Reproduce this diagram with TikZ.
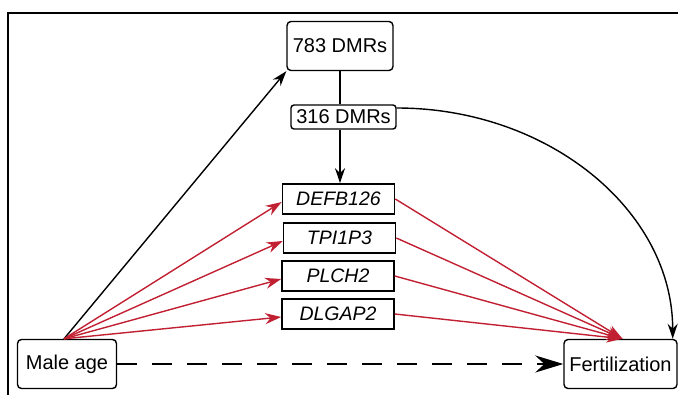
\documentclass[tikz,border=0pt]{standalone}
\usepackage{fontspec}
\setmainfont{Liberation Sans}
\usetikzlibrary{arrows.meta, positioning}
\definecolor{rojo}{RGB}{193,32,50}

\begin{document}
\begin{tikzpicture}[x=1pt, y=-1pt,
    caja/.style={draw, line width=1.4pt, rounded corners=4pt, inner sep=0pt,
        font=\fontsize{20}{24}\selectfont},
    gen/.style={draw, line width=1.6pt, inner sep=0pt, minimum width=112pt,
        minimum height=30pt, font=\fontsize{19.5}{23}\selectfont\itshape},
    flecha/.style={line width=1.4pt, -{Stealth[length=15pt, width=10pt]}},
    flecharoja/.style={rojo, line width=1.4pt, -{Stealth[length=16pt, width=11pt]}}]
    \useasboundingbox (0,0) rectangle (678,394);
    \clip (0,0) rectangle (678,394);

    % Marco
    \draw[line width=2pt] (8,12.5) rectangle (700,420);

    % Nodos
    \node[caja, minimum width=106pt, minimum height=49pt] (dmrA) at (340,46) {783 DMRs};
    \node[caja, rounded corners=3pt, minimum width=105pt, minimum height=24pt] (dmrB) at (343.5,117) {316 DMRs};
    \node[gen] (defb) at (338.5,199) {DEFB126};
    \node[gen] (tpi) at (339.5,238) {TPI1P3};
    \node[gen] (plch) at (338,276) {PLCH2};
    \node[gen] (dlgap) at (338,314) {DLGAP2};
    \node[caja, minimum width=99pt, minimum height=49pt] (male) at (67,364) {Male age};
    \node[caja, minimum width=113pt, minimum height=49pt] (fert) at (620.5,364) {Fertilization};

    % Flechas negras
    \draw[flecha] ([xshift=-3pt]male.north) -- (dmrA.south west);
    \draw[line width=1.4pt] (dmrA.south) -- (dmrA.south |- dmrB.north);
    \draw[flecha] (dmrA.south |- dmrB.south) -- (dmrA.south |- defb.north);
    \draw[flecha] ([yshift=9pt]dmrB.east) .. controls +(152,0) and +(0,-128) .. ([xshift=-5pt]fert.north east);

    % Flechas rojas
    \foreach \g in {defb, tpi, plch, dlgap} {
        \draw[flecharoja] ([xshift=-3pt]male.north) -- ([yshift=-3pt]\g.west);
        \draw[flecharoja] (\g.east) -- ([xshift=2pt]fert.north);
    }

    % Efecto directo
    \draw[line width=2.4pt, dash pattern=on 20pt off 15pt,
        -{Stealth[length=28pt, width=17pt]}] (male.east) -- (fert.west);

\end{tikzpicture}
\end{document}
